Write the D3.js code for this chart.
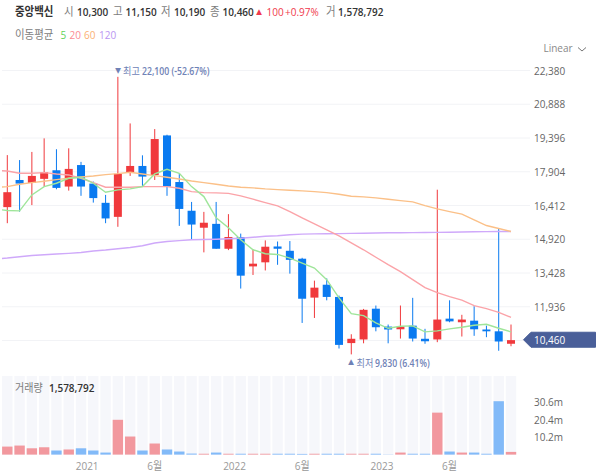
<!DOCTYPE html>
<html>
<head>
<meta charset="utf-8">
<script src="https://cdn.jsdelivr.net/npm/d3@7"></script>
<style>
html, body { margin: 0; padding: 0; background: #fff; }
svg { display: block; }
text { font-family: "Open Sans", "Noto Sans CJK KR", sans-serif; }
</style>
</head>
<body>
<script>
// candles, oldest first
var open = [16340,17540,17410,17590,17970,17250,18200,17380,16530,15910,17860,18160,17760,19510,17450,16180,15430,15600,14500,15020,13720,13900,14600,14410,14060,12340,12910,12370,10330,10490,11850,11060,10940,11100,10520,10490,11410,11250,11320,10930,10850,10300];
var high = [18640,18420,18780,19380,18900,18940,18340,17470,16880,22100,20040,18630,19790,19540,17840,16570,16130,16570,16030,15170,14460,14870,14820,14840,14100,13090,13190,12430,10720,11840,11990,11150,11990,12330,10960,17110,12220,11580,11960,11100,15410,11150];
var low = [15630,16140,16430,17250,17130,17070,16840,16540,15630,15470,17720,17250,17540,16840,15510,14930,14340,14500,14440,12740,13340,13540,13790,13400,11220,11440,12220,10090,9830,10320,10850,10320,10530,10400,10300,10370,11250,10620,10650,10590,9990,10190];
var close = [17000,17380,17720,17880,17190,18030,17250,16740,15840,17810,18160,17690,19350,17250,16260,15570,15650,14500,15020,13310,13840,14590,14500,14010,12290,12780,12370,10250,10520,11800,11030,10930,11060,10530,10410,11370,11290,11370,10940,10850,10400,10460];
// volume in millions
var volume = [4.7,5.3,3.7,4.3,2.4,3.0,3.7,2.4,1.2,20.4,10.6,2.4,6.5,3.0,1.8,0.6,0.5,1.2,0.5,0.5,0.5,0.5,0.5,0.5,0.4,0.5,0.5,0.5,0.5,0.5,0.5,0.1,1.2,0.5,0.5,24.6,1.8,1.2,1.2,0.5,31.3,1.58];
var volumeUp = [1,1,1,1,0,1,0,0,0,1,1,0,1,0,0,0,1,0,1,0,1,1,0,0,0,1,0,0,1,1,0,0,1,0,0,1,0,1,0,0,0,1];

// moving averages, first value is the candle just before the visible range
var ma5 = [16260,16190,16175,16880,17247,17396,17617,17661,17396,16999,17101,17145,17247,17807,18014,17838,17247,16806,15866,15425,14896,14455,14279,14248,14089,13869,13648,13132,12325,11633,11544,11222,10984,11073,11090,10825,10870,10958,11029,11117,11161,10984,10825];
var ma20 = [17960,17939,17837,17837,17864,17807,17763,17617,17423,17220,17220,17220,17247,17247,17247,17176,17026,16982,16969,16947,16836,16691,16541,16395,16144,15866,15602,15337,15072,14764,14455,14124,13794,13485,13132,12779,12559,12382,12228,11985,11853,11690,11470];
var ma60 = [17210,17247,17353,17423,17485,17555,17617,17674,17718,17776,17820,17882,17807,17732,17661,17586,17498,17423,17353,17277,17220,17189,17145,17114,17088,17057,17026,16982,16911,16823,16792,16748,16691,16629,16572,16409,16263,16144,16029,15778,15527,15394,15262];
var ma120 = [14045,14089,14146,14203,14234,14265,14296,14336,14398,14442,14499,14556,14631,14755,14821,14861,14896,14909,14922,14940,14967,15006,15050,15072,15116,15147,15156,15161,15169,15178,15187,15196,15205,15209,15214,15218,15223,15231,15240,15249,15258,15262,15262];

var priceTicks = [22380,20888,19396,17904,16412,14920,13428,11936,10444];
var volumeTicks = [30.6,20.4,10.2];
var timeTicks = [6.5,12,18.5,24,30.5,36];
var timeLabels = ["2021","6월","2022","6월","2023","6월"];

var w = 600, h = 473;
var upColor = "#f0393c", downColor = "#0a7af0";
var upVol = "#f2989e", downVol = "#82baf8";
var gray = "#7c7c7c", dark = "#333", flag = "#4a5f99", note = "#6f82b6";

var svg = d3.select("body").append("svg").attr("width", w).attr("height", h);

var x = d3.scaleLinear().domain([0, 41]).range([7.3, 511]);
var y = d3.scaleLinear().domain([22380, 10444]).range([70.5, 340.5]);
var yVol = d3.scaleLinear().domain([0, 30.6]).range([454.6, 402.4]);

svg.append("defs").append("clipPath").attr("id", "plot")
    .append("rect").attr("x", 2).attr("y", 50).attr("width", 516).attr("height", 320);

// the reference font is narrower than anything installed, so squeeze the text
function label(txt, px, py, color, size, weight, anchor) {
    svg.append("text").text(txt)
        .attr("transform", "translate(" + px + "," + py + ") scale(0.87,1)")
        .attr("fill", color)
        .attr("font-size", (size || 11.5) + "px")
        .attr("font-weight", weight || 400)
        .attr("text-anchor", anchor || "start");
}

// grid
svg.append("g").selectAll("line").data(priceTicks).enter().append("line")
    .attr("x1", 2).attr("x2", 530)
    .attr("y1", function(d){ return y(d); })
    .attr("y2", function(d){ return y(d); })
    .attr("stroke", "#f2f3f6");

// price labels, the last one sits under the flag
priceTicks.slice(0, -1).forEach(function(d){
    label(d3.format(",")(d), 534, y(d) + 4, "#666", 11.5);
});

// wicks
svg.append("g").selectAll("line").data(open).enter().append("line")
    .attr("x1", function(d,i){ return x(i); })
    .attr("x2", function(d,i){ return x(i); })
    .attr("y1", function(d,i){ return y(high[i]); })
    .attr("y2", function(d,i){ return y(low[i]); })
    .attr("stroke", function(d,i){ return close[i] > open[i] ? upColor : downColor; })
    .attr("stroke-width", 1);

// bodies
svg.append("g").selectAll("rect").data(open).enter().append("rect")
    .attr("x", function(d,i){ return x(i) - 4; })
    .attr("y", function(d,i){ return y(Math.max(open[i], close[i])); })
    .attr("width", 8)
    .attr("height", function(d,i){ return Math.abs(y(open[i]) - y(close[i])); })
    .attr("fill", function(d,i){ return close[i] > open[i] ? upColor : downColor; });

// moving averages
var maLine = d3.line()
    .x(function(d,i){ return x(i - 1); })
    .y(function(d){ return y(d); });

var maSeries = [ma120, ma60, ma20, ma5];
var maColors = ["#cfa9fa", "#fbc088", "#fba3a8", "#9fe59a"];
svg.append("g").attr("clip-path", "url(#plot)").selectAll("path").data(maSeries).enter().append("path")
    .attr("d", maLine)
    .attr("fill", "none")
    .attr("stroke", function(d,i){ return maColors[i]; })
    .attr("stroke-width", 1.4);

// volume panel
svg.append("g").selectAll("rect").data(volume).enter().append("rect")
    .attr("x", function(d,i){ return x(i) - 5.2; })
    .attr("y", 376)
    .attr("width", 10.4)
    .attr("height", 79)
    .attr("fill", "#f6f7fb");

svg.append("g").selectAll("rect").data(volume).enter().append("rect")
    .attr("x", function(d,i){ return x(i) - 5.2; })
    .attr("y", function(d){ return yVol(d); })
    .attr("width", 10.4)
    .attr("height", function(d){ return yVol(0) - yVol(d); })
    .attr("fill", function(d,i){ return volumeUp[i] ? upVol : downVol; });

volumeTicks.forEach(function(d){
    label(d + "m", 534, yVol(d) + 4, "#666", 11.5);
});

timeTicks.forEach(function(d,i){
    label(timeLabels[i], x(d), 470, "#999", 11.5, 400, "middle");
});

// current price flag
var lastPrice = close[close.length - 1];
var flagY = y(lastPrice) - 0.4;
svg.append("path")
    .attr("d", d3.line()([[523.5, flagY], [531, flagY - 7.5], [595.5, flagY - 7.5], [595.5, flagY + 7.5], [531, flagY + 7.5]]) + "Z")
    .attr("fill", flag)
    .attr("stroke", flag)
    .attr("stroke-linejoin", "round");
label(d3.format(",")(lastPrice), 534, flagY + 4, "#fff", 11.5);

// header row
label("중앙백신", 15, 16, dark, 12, 700);
label("시", 64, 16, gray, 12);
label("10,300", 77, 16, dark, 11.5, 600);
label("고", 113, 16, gray, 12);
label("11,150", 125.5, 16, dark, 11.5, 600);
label("저", 161, 16, gray, 12);
label("10,190", 174, 16, dark, 11.5, 600);
label("종", 210, 16, gray, 12);
label("10,460", 222.5, 16, dark, 11.5, 600);
label("▲", 256, 15, "#f0394c", 7);
label("100", 266.5, 16, "#f0394c");
label("+0.97%", 285, 16, "#f0394c");
label("거", 326, 16, gray, 12);
label("1,578,792", 338, 16, dark, 11.5, 600);

label("이동평균", 15, 39, gray, 12);
label("5", 60.5, 39, "#5fd35a");
label("20", 69.5, 39, "#fb8b92");
label("60", 84, 39, "#fbb173");
label("120", 99, 39, "#b995f2");

label("Linear", 543.5, 52, "#888");
svg.append("path")
    .attr("d", d3.line()([[578, 47.5], [582, 51], [586, 47.5]]))
    .attr("fill", "none").attr("stroke", "#777");

// high and low notes
label("▼", 115, 73, note, 7);
label("최고", 123, 75, note, 10.5);
label("22,100 (-52.67%)", 142, 75, note, 10, 600);
label("▲", 348, 365, note, 7);
label("최저", 356.5, 367, note, 10.5);
label("9,830 (6.41%)", 375, 367, note, 10, 600);

label("거래량", 15, 392, gray, 11.5);
label("1,578,792", 49, 392, dark, 11.5, 600);
</script>
</body>
</html>
